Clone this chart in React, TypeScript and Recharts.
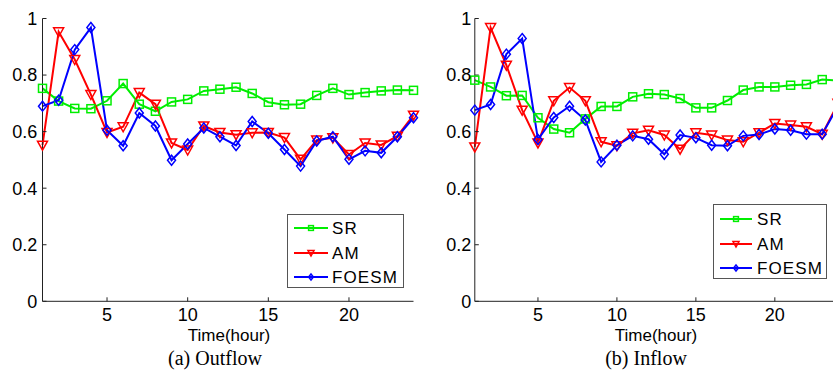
import { LineChart, Line, XAxis, YAxis } from "recharts";

const hours = [1, 2, 3, 4, 5, 6, 7, 8, 9, 10, 11, 12, 13, 14, 15, 16, 17, 18, 19, 20, 21, 22, 23, 24];

const outflowSR = [0.753, 0.708, 0.682, 0.681, 0.709, 0.77, 0.697, 0.672, 0.705, 0.714, 0.744, 0.75, 0.757, 0.735, 0.704, 0.695, 0.697, 0.728, 0.753, 0.731, 0.738, 0.744, 0.747, 0.746];
const outflowAM = [0.552, 0.953, 0.855, 0.731, 0.597, 0.617, 0.738, 0.697, 0.56, 0.535, 0.62, 0.597, 0.589, 0.596, 0.597, 0.579, 0.502, 0.57, 0.578, 0.519, 0.56, 0.553, 0.584, 0.658];
const outflowFOESM = [0.69, 0.711, 0.89, 0.968, 0.605, 0.55, 0.666, 0.62, 0.499, 0.556, 0.613, 0.582, 0.551, 0.636, 0.594, 0.537, 0.478, 0.567, 0.582, 0.502, 0.532, 0.525, 0.582, 0.649];

const inflowSR = [0.782, 0.758, 0.727, 0.728, 0.649, 0.609, 0.596, 0.645, 0.689, 0.689, 0.723, 0.734, 0.731, 0.717, 0.684, 0.684, 0.71, 0.747, 0.758, 0.758, 0.764, 0.767, 0.784, 0.78];
const inflowAM = [0.546, 0.968, 0.835, 0.676, 0.56, 0.709, 0.756, 0.709, 0.564, 0.55, 0.594, 0.605, 0.588, 0.538, 0.596, 0.588, 0.57, 0.564, 0.596, 0.629, 0.623, 0.617, 0.591, 0.7];
const inflowFOESM = [0.676, 0.696, 0.874, 0.929, 0.572, 0.65, 0.69, 0.641, 0.493, 0.552, 0.585, 0.573, 0.52, 0.588, 0.578, 0.552, 0.55, 0.585, 0.59, 0.609, 0.605, 0.591, 0.591, 0.69];

const xTicks = [5, 10, 15, 20];
const yTicks = [0, 0.2, 0.4, 0.6, 0.8, 1];

const GREEN = "#00ee00";
const RED = "#ff0000";
const BLUE = "#0000ff";
const SANS = "'Liberation Sans', Arial, sans-serif";
const SERIF = "'Liberation Serif', 'Times New Roman', serif";

// open markers, MATLAB style; s scales them down for the legend
const Square = ({ cx, cy, color, s = 1 }: any) => (
  <rect x={cx - 4 * s} y={cy - 4 * s} width={8 * s} height={8 * s} fill="none" stroke={color} strokeWidth={1.5} />
);

const TriDown = ({ cx, cy, color, s = 1 }: any) => (
  <polygon
    points={`${cx - 5 * s},${cy - 4 * s} ${cx + 5 * s},${cy - 4 * s} ${cx},${cy + 5 * s}`}
    fill="none"
    stroke={color}
    strokeWidth={1.5}
  />
);

const Diamond = ({ cx, cy, color, s = 1 }: any) => (
  <polygon
    points={`${cx},${cy - 5 * s} ${cx + 4 * s},${cy} ${cx},${cy + 5 * s} ${cx - 4 * s},${cy}`}
    fill="none"
    stroke={color}
    strokeWidth={1.5}
  />
);

const series = [
  { key: "sr", name: "SR", color: GREEN, Marker: Square },
  { key: "am", name: "AM", color: RED, Marker: TriDown },
  { key: "foesm", name: "FOESM", color: BLUE, Marker: Diamond },
];

interface PanelProps {
  sr: number[];
  am: number[];
  foesm: number[];
  left: number;
  width: number;
  yAxisWidth: number;
  yTickMargin: number;
  rightMargin: number;
  caption: string;
  captionX: number;
  labelX: number;
  legend: { left: number; top: number; width: number; height: number; rows: number[]; lineFrom: number; lineTo: number; textX: number };
}

const blank = () => "";

function Panel({ sr, am, foesm, left, width, yAxisWidth, yTickMargin, rightMargin, caption, captionX, labelX, legend }: PanelProps) {
  const data = hours.map((h, i) => ({ hour: h, sr: sr[i], am: am[i], foesm: foesm[i] }));
  const tickStyle = { fill: "#000", fontSize: 18, fontFamily: SANS };
  const mid = (legend.lineFrom + legend.lineTo) / 2;

  return (
    <>
      <div style={{ position: "absolute", left, top: 0 }}>
        <LineChart width={width} height={370} data={data} margin={{ top: 18.5, right: rightMargin, bottom: 0, left: 0 }}>
          <XAxis
            xAxisId="b"
            dataKey="hour"
            type="number"
            domain={[1, 24]}
            ticks={xTicks}
            height={68.7}
            tickSize={-4}
            tickMargin={11.3}
            tick={tickStyle}
            axisLine={{ stroke: "#222" }}
            tickLine={{ stroke: "#222" }}
          />
          <XAxis
            xAxisId="t"
            orientation="top"
            dataKey="hour"
            type="number"
            domain={[1, 24]}
            ticks={xTicks}
            height={0}
            tickSize={-4}
            tickFormatter={blank}
            axisLine={{ stroke: "#999" }}
            tickLine={{ stroke: "#555" }}
          />
          <YAxis
            yAxisId="l"
            type="number"
            domain={[0, 1]}
            ticks={yTicks}
            width={yAxisWidth}
            tickSize={-4}
            tickMargin={yTickMargin}
            tick={tickStyle}
            tickFormatter={(v: number) => String(v)}
            axisLine={{ stroke: "#222" }}
            tickLine={{ stroke: "#222" }}
          />
          <YAxis
            yAxisId="r"
            orientation="right"
            type="number"
            domain={[0, 1]}
            ticks={yTicks}
            width={0}
            tickSize={-4}
            tickFormatter={blank}
            axisLine={{ stroke: "#999" }}
            tickLine={{ stroke: "#777" }}
          />
          {series.map(({ key, color, Marker }) => (
            <Line
              key={key}
              xAxisId="b"
              yAxisId="l"
              dataKey={key}
              stroke={color}
              strokeWidth={2}
              isAnimationActive={false}
              dot={(p: any) => <Marker key={`${key}-${p.index}`} cx={p.cx} cy={p.cy} color={color} />}
              activeDot={false}
            />
          ))}
        </LineChart>
      </div>

      <div
        style={{
          position: "absolute",
          left: legend.left,
          top: legend.top,
          width: legend.width,
          height: legend.height,
          border: "1px solid #555",
          background: "#fff",
          boxSizing: "border-box",
        }}
      >
        <svg width={legend.width} height={legend.height} style={{ position: "absolute", left: -1, top: -1 }}>
          {series.map(({ key, name, color, Marker }, i) => (
            <g key={key}>
              <line x1={legend.lineFrom} x2={legend.lineTo} y1={legend.rows[i]} y2={legend.rows[i]} stroke={color} strokeWidth={2} />
              <Marker cx={mid} cy={legend.rows[i]} color={color} s={0.6} />
              <text
                x={legend.textX}
                y={legend.rows[i] + 6}
                fontSize={17}
                fontFamily={SANS}
                letterSpacing={1.1}
                fill="#000"
              >
                {name}
              </text>
            </g>
          ))}
        </svg>
      </div>

      <div
        style={{
          position: "absolute",
          left: labelX,
          top: 335,
          transform: "translate(-50%, -50%)",
          fontFamily: SANS,
          fontSize: 17,
          lineHeight: 1,
          whiteSpace: "nowrap",
        }}
      >
        Time(hour)
      </div>
      <div
        style={{
          position: "absolute",
          left: captionX,
          top: 358,
          transform: "translate(-50%, -50%)",
          fontFamily: SERIF,
          fontSize: 20,
          lineHeight: 1,
          whiteSpace: "nowrap",
        }}
      >
        {caption}
      </div>
    </>
  );
}

export default function App() {
  return (
    <div
      style={{
        position: "fixed",
        left: 0,
        top: 0,
        width: 833,
        height: 370,
        overflow: "hidden",
        background: "#fff",
      }}
    >
      <Panel
        sr={outflowSR}
        am={outflowAM}
        foesm={outflowFOESM}
        left={0}
        width={430}
        yAxisWidth={42.5}
        yTickMargin={9.2}
        rightMargin={16.5}
        caption="(a) Outflow"
        captionX={215}
        labelX={229}
        legend={{ left: 287, top: 214, width: 117, height: 74, rows: [14, 39, 63], lineFrom: 7, lineTo: 41, textX: 45 }}
      />
      <Panel
        sr={inflowSR}
        am={inflowAM}
        foesm={inflowFOESM}
        left={432}
        width={420}
        yAxisWidth={42.8}
        yTickMargin={7.5}
        rightMargin={14}
        caption="(b) Inflow"
        captionX={646}
        labelX={656}
        legend={{ left: 713, top: 204, width: 114, height: 75, rows: [15, 40, 64], lineFrom: 7, lineTo: 39, textX: 44 }}
      />
    </div>
  );
}
